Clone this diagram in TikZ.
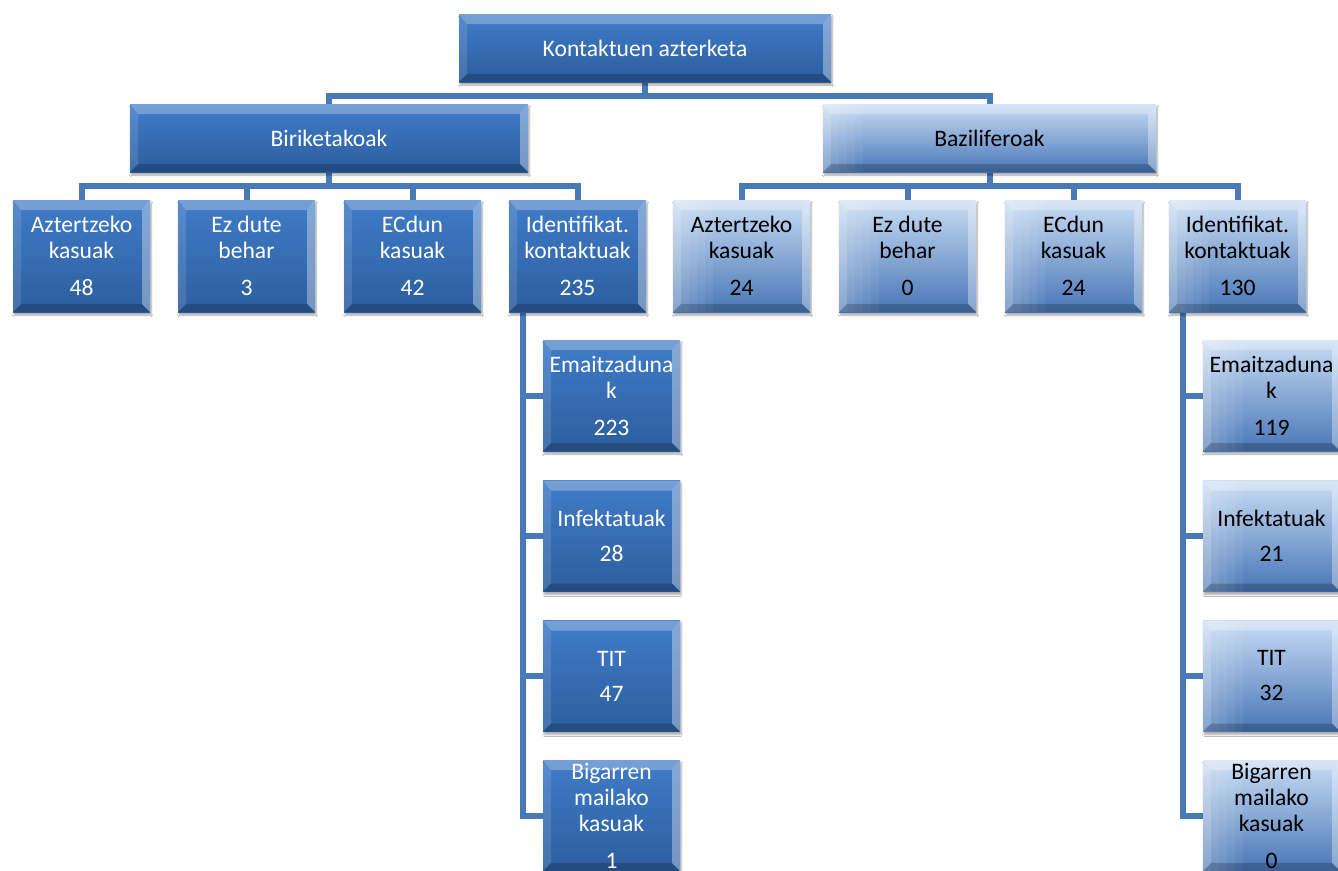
\documentclass[tikz,border=0pt]{standalone}
\usepackage{fontspec}
\setmainfont{Carlito}
\usetikzlibrary{shadows.blur}
\definecolor{connc}{RGB}{72,122,184}
\definecolor{dkT}{RGB}{64,124,200}
\definecolor{dkB}{RGB}{44,94,158}
\definecolor{ltT}{RGB}{200,220,244}
\definecolor{ltB}{RGB}{72,118,182}
\pgfdeclarelayer{bg}
\pgfsetlayers{bg,main}
\newcommand\bevelfx{%
  \fill[white,opacity=0.28] (path picture bounding box.north west) -- (path picture bounding box.north east) -- ([shift={(-8pt,-10pt)}]path picture bounding box.north east) -- ([shift={(8pt,-10pt)}]path picture bounding box.north west) -- cycle;
  \fill[white,opacity=0.12] (path picture bounding box.north west) -- ([shift={(8pt,-10pt)}]path picture bounding box.north west) -- ([shift={(8pt,8pt)}]path picture bounding box.south west) -- (path picture bounding box.south west) -- cycle;
  \fill[white,opacity=0.35] (path picture bounding box.north east) -- (path picture bounding box.south east) -- ([shift={(-8pt,8pt)}]path picture bounding box.south east) -- ([shift={(-8pt,-10pt)}]path picture bounding box.north east) -- cycle;
  \fill[black,opacity=0.2] (path picture bounding box.south west) -- ([shift={(8pt,8pt)}]path picture bounding box.south west) -- ([shift={(-8pt,8pt)}]path picture bounding box.south east) -- (path picture bounding box.south east) -- cycle;
}
\newcommand\leftglow{%
  \foreach \w in {8,16,24,32,40}
    \fill[white,opacity=0.06] (path picture bounding box.north west) rectangle ([xshift=\w pt]path picture bounding box.south west);
}
\tikzset{
  boxbase/.style={rectangle, inner sep=0pt, align=center,
    font=\fontsize{23.6pt}{26pt}\selectfont,
    blur shadow={shadow blur steps=6, shadow xshift=1pt, shadow yshift=-3pt, shadow opacity=35}},
  dk/.style={boxbase, top color=dkT, bottom color=dkB, text=white, path picture={\bevelfx}},
  lt/.style={boxbase, top color=ltT, bottom color=ltB, text=black, path picture={\leftglow\bevelfx}},
  lvtwo/.style={minimum width=137pt, minimum height=112pt},
  lvthree/.style={minimum width=137pt, minimum height=111pt},
  cn/.style={draw=connc, line width=6pt, line join=miter}
}
\begin{document}
\begin{tikzpicture}[x=1pt,y=-1pt]
\useasboundingbox (0,0) rectangle (1338,870);
\clip (0,0) rectangle (1338,870);
% top
\node[dk, minimum width=372pt, minimum height=68pt] (top) at (645,48) {Kontaktuen azterketa};
\node[dk, minimum width=398pt, minimum height=68pt] (bir) at (329,138) {Biriketakoak};
\node[lt, minimum width=333pt, minimum height=68pt] (baz) at (989.5,138) {Baziliferoak};
% level 2 left
\node[dk, lvtwo] (la) at (81.5,256) {Aztertzeko\\kasuak\\[11pt]48};
\node[dk, lvtwo] (lb) at (246.5,256) {Ez dute\\behar\\[11pt]3};
\node[dk, lvtwo] (lc) at (412.5,256) {ECdun\\kasuak\\[11pt]42};
\node[dk, lvtwo] (ld) at (577.5,256) {Identifikat.\\kontaktuak\\[11pt]235};
% level 2 right
\node[lt, lvtwo] (ra) at (741.5,256) {Aztertzeko\\kasuak\\[11pt]24};
\node[lt, lvtwo] (rb) at (907.5,256) {Ez dute\\behar\\[11pt]0};
\node[lt, lvtwo] (rc) at (1073.5,256) {ECdun\\kasuak\\[11pt]24};
\node[lt, lvtwo] (rd) at (1237.5,256) {Identifikat.\\kontaktuak\\[11pt]130};
% level 3 left
\node[dk, lvthree] (ls1) at (611.5,395.5) {Emaitzaduna\\k\\[11pt]223};
\node[dk, lvthree] (ls2) at (611.5,536) {Infektatuak\\[9pt]28};
\node[dk, lvthree] (ls3) at (611.5,676) {TIT\\[9pt]47};
\node[dk, lvthree] (ls4) at (611.5,815.5) {Bigarren\\mailako\\kasuak\\[11pt]1};
% level 3 right
\node[lt, lvthree] (rs1) at (1271.5,395.5) {Emaitzaduna\\k\\[11pt]119};
\node[lt, lvthree] (rs2) at (1271.5,536) {Infektatuak\\[9pt]21};
\node[lt, lvthree] (rs3) at (1271.5,676) {TIT\\[9pt]32};
\node[lt, lvthree] (rs4) at (1271.5,815.5) {Bigarren\\mailako\\kasuak\\[11pt]0};
\begin{pgfonlayer}{bg}
\fill[white] (0,0) rectangle (1338,870);
\draw[cn] (top.south) -- ++(0,-14pt) -| (bir.north);
\draw[cn] (top.south) -- ++(0,-14pt) -| (baz.north);
\foreach \c in {la,lb,lc,ld} \draw[cn] (bir.south) -- ++(0,-14pt) -| (\c.north);
\foreach \c in {ra,rb,rc,rd} \draw[cn] (baz.south) -- ++(0,-14pt) -| (\c.north);
\foreach \c in {ls1,ls2,ls3,ls4} \draw[cn] ([xshift=14pt]ld.south west) |- (\c.west);
\foreach \c in {rs1,rs2,rs3,rs4} \draw[cn] ([xshift=14pt]rd.south west) |- (\c.west);
\end{pgfonlayer}
\end{tikzpicture}
\end{document}
